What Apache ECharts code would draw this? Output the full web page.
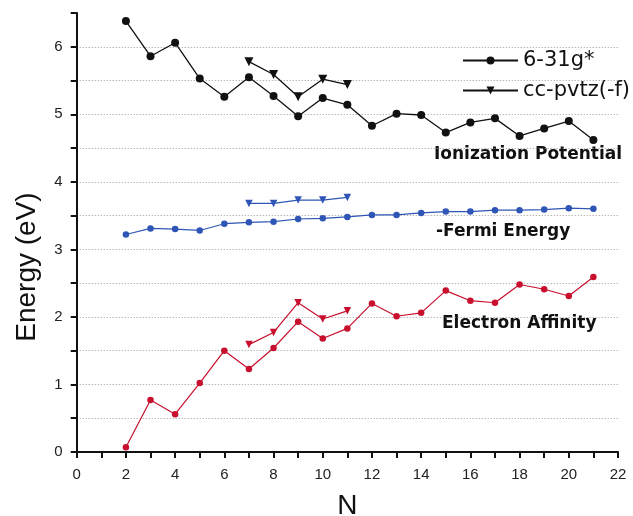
<!DOCTYPE html>
<html><head><meta charset="utf-8">
<script src="https://cdn.jsdelivr.net/npm/echarts@6/dist/echarts.min.js"></script>
<style>html,body{margin:0;padding:0;background:#fff}#c{width:633px;height:516px}</style>
</head><body><div id="c"></div>
<script>
// N values
var nFull = [2,3,4,5,6,7,8,9,10,11,12,13,14,15,16,17,18,19,20,21];
var nCC = [7,8,9,10,11];
// Ionization Potential
var ip631 = [6.38,5.86,6.06,5.53,5.26,5.55,5.27,4.97,5.24,5.14,4.83,5.01,4.99,4.73,4.88,4.94,4.68,4.79,4.90,4.62];
var ipCC = [5.78,5.59,5.26,5.52,5.44];
// -Fermi Energy
var fe631 = [3.22,3.31,3.30,3.28,3.38,3.40,3.41,3.45,3.46,3.48,3.51,3.51,3.54,3.56,3.56,3.58,3.58,3.59,3.61,3.60];
var feCC = [3.68,3.68,3.73,3.73,3.77];
// Electron Affinity
var ea631 = [0.07,0.77,0.56,1.02,1.50,1.23,1.54,1.93,1.68,1.83,2.20,2.01,2.06,2.39,2.24,2.21,2.48,2.41,2.31,2.59];
var eaCC = [1.59,1.77,2.21,1.97,2.09];
var legendNames = ['6-31g*','cc-pvtz(-f)'];
var annotations = ['Ionization Potential','-Fermi Energy','Electron Affinity'];

function pairs(xs, ys){ return xs.map(function(x,i){return [x, ys[i]];}); }
var BLACK='#111111', BLUE='#2f56b6', RED='#c8102e';
function circ(name, xs, ys, color, size, lw){
  return {name:name, type:'line', data:pairs(xs,ys), symbol:'circle', symbolSize:size,
    lineStyle:{color:color,width:lw}, itemStyle:{color:color}, z:3};
}
function tri(name, xs, ys, color, size, lw){
  return {name:name, type:'line', data:pairs(xs,ys), symbol:'triangle', symbolRotate:180, symbolSize:size,
    lineStyle:{color:color,width:lw}, itemStyle:{color:color}, z:3};
}
var font = '"Liberation Sans", Arial, sans-serif';
var wide = '"DejaVu Sans", sans-serif';
var chart = echarts.init(document.getElementById('c'));
chart.setOption({
  animation:false,
  backgroundColor:'#fff',
  grid:{left:76.7, right:15, top:13, bottom:64, containLabel:false, outerBoundsMode:'none'},
  legend:{
    data:[{name:legendNames[0]},{name:legendNames[1]}],
    orient:'vertical', left:462, top:50, padding:0, itemWidth:55, itemHeight:10, itemGap:9,
    textStyle:{fontFamily:wide, fontSize:21, color:'#111', lineHeight:20},
    symbolRotate:'inherit'
  },
  xAxis:{
    type:'value', min:0, max:22, interval:1,
    name:'N', nameLocation:'middle', nameGap:40,
    nameTextStyle:{fontFamily:font, fontSize:28, color:'#111'},
    axisLine:{lineStyle:{color:'#111', width:2}},
    axisTick:{show:true, length:6, lineStyle:{color:'#111', width:2}},
    axisLabel:{fontFamily:font, fontSize:15, color:'#222', margin:15,
      formatter:function(v){ return v%2===0 ? String(v) : ''; }},
    splitLine:{show:false}
  },
  yAxis:{
    type:'value', min:0, max:6.5, interval:0.5,
    axisLine:{show:true, lineStyle:{color:'#111', width:2}},
    axisTick:{show:true, length:6, lineStyle:{color:'#111', width:2}},
    axisLabel:{fontFamily:font, fontSize:15, color:'#222', margin:14,
      formatter:function(v){ return Math.abs(v-Math.round(v))<1e-9 && v<=6 ? String(Math.round(v)) : ''; }},
    splitLine:{show:true, showMinLine:false, showMaxLine:false, lineStyle:{color:'#999999', type:[1,2], width:1}}
  },
  graphic:[
    {type:'text', x:27, y:267, rotation:Math.PI/2,
      style:{text:'Energy (eV)', fontFamily:font, fontSize:28, fill:'#111', align:'center', verticalAlign:'middle'}},
    {type:'text', x:434, y:155,
      style:{text:annotations[0], fontFamily:wide, fontSize:17, fontWeight:'bold', fill:'#111', align:'left', verticalAlign:'middle'}},
    {type:'text', x:436, y:232,
      style:{text:annotations[1], fontFamily:wide, fontSize:17, fontWeight:'bold', fill:'#111', align:'left', verticalAlign:'middle'}},
    {type:'text', x:442, y:324,
      style:{text:annotations[2], fontFamily:wide, fontSize:17, fontWeight:'bold', fill:'#111', align:'left', verticalAlign:'middle'}}
  ],
  series:[
    circ(legendNames[0], nFull, ip631, BLACK, 8, 1.3),
    tri(legendNames[1], nCC, ipCC, BLACK, 9, 1.3),
    circ('fe631', nFull, fe631, BLUE, 6.5, 1.2),
    tri('feCC', nCC, feCC, BLUE, 7.5, 1.2),
    circ('ea631', nFull, ea631, RED, 6.5, 1.2),
    tri('eaCC', nCC, eaCC, RED, 7.5, 1.2)
  ]
});
</script></body></html>
